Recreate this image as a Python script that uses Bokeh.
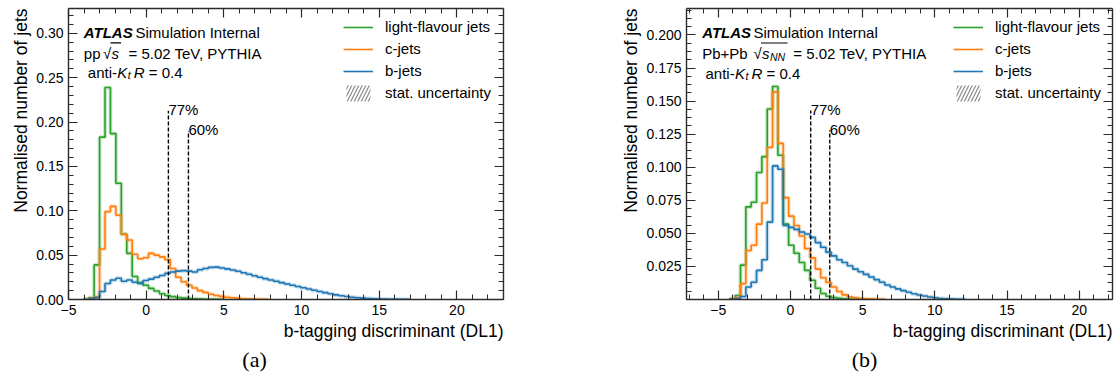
import math
import numpy as np
from bokeh.plotting import figure
from bokeh.models import (Label, Legend, LegendItem, LinearAxis, Range1d, Title,
                          SingleIntervalTicker, BoxAnnotation, NumeralTickFormatter,
                          CustomJSTickFormatter)
from bokeh.layouts import row
from bokeh.embed import file_html
from bokeh.resources import INLINE

SANS = "Liberation Sans"
SERIF = "Liberation Serif"
GREEN = "#2ca02c"
ORANGE = "#ff7f0e"
BLUE = "#1f77b4"
AXC = "#2b2b2b"

# ---------------- data: panel (a) pp ----------------
bin_start_a = -4.05
bin_width_a = 0.35
light_a = [0.0, 0.002, 0.039, 0.183, 0.239, 0.187, 0.131, 0.0735, 0.052, 0.026,
           0.019, 0.016, 0.0125, 0.0095, 0.0065, 0.0045, 0.0032, 0.0023, 0.0016, 0.0011,
           0.0008, 0.0005, 0.0003, 0.0002, 0.0001, 0.0]
c_a = [0.0, 0.0008, 0.003, 0.057, 0.099, 0.105, 0.095, 0.0735, 0.067, 0.051,
       0.046, 0.047, 0.052, 0.050, 0.048, 0.045, 0.035, 0.025, 0.020, 0.016,
       0.013, 0.010, 0.008, 0.006, 0.0045, 0.0035, 0.0026, 0.0019, 0.0013, 0.0009,
       0.0006, 0.0004, 0.0002, 0.0001]
b_a = [0.0, 0.0005, 0.002, 0.009, 0.018, 0.022, 0.024, 0.0205, 0.022, 0.0195,
       0.018, 0.0215, 0.023, 0.025, 0.027, 0.0295, 0.031, 0.032, 0.0325, 0.032,
       0.031, 0.0335, 0.035, 0.0362, 0.0365, 0.0355, 0.0345, 0.0333, 0.0318, 0.0302,
       0.0285, 0.0268, 0.025, 0.0235, 0.022, 0.0205, 0.019, 0.0175, 0.016, 0.0146,
       0.0132, 0.0118, 0.0104, 0.009, 0.0077, 0.0064, 0.0052, 0.0042, 0.0033, 0.0026,
       0.002, 0.0015, 0.0012, 0.0009, 0.0006, 0.0004, 0.0003, 0.0002, 0.0001, 0.0001]
wp_labels = ["77%", "60%"]
wp_cut_a = [1.43, 2.72]
wp_top_a = [0.2127, 0.190]
x_range_a = (-5.0, 23.0)
y_range_a = (0.0, 0.328)

# ---------------- data: panel (b) Pb+Pb ----------------
bin_start_b = -4.2
bin_width_b = 0.37
light_b = [0.0005, 0.003, 0.026, 0.070, 0.0735, 0.096, 0.108, 0.144, 0.161, 0.109,
           0.057, 0.041, 0.035, 0.028, 0.022, 0.0145, 0.0085, 0.0045, 0.0025, 0.0015,
           0.001, 0.0006, 0.0004, 0.0002, 0.0001]
c_b = [0.0, 0.0015, 0.012, 0.037, 0.041, 0.057, 0.073, 0.115, 0.157, 0.118,
       0.077, 0.063, 0.056, 0.048, 0.0385, 0.0315, 0.023, 0.0165, 0.013, 0.0095,
       0.006, 0.0035, 0.002, 0.0013, 0.0008, 0.0005, 0.0003, 0.0002, 0.0001]
b_b = [0.0, 0.0005, 0.0023, 0.0094, 0.013, 0.022, 0.030, 0.0585, 0.101, 0.0985,
       0.056, 0.0545, 0.053, 0.051, 0.0495, 0.047, 0.043, 0.0395, 0.0358, 0.033,
       0.030, 0.028, 0.0255, 0.023, 0.021, 0.019, 0.017, 0.015, 0.013, 0.011,
       0.0095, 0.008, 0.0067, 0.0055, 0.0044, 0.0034, 0.0026, 0.0019, 0.0013, 0.0008,
       0.0005, 0.0003, 0.0002, 0.0001]
wp_cut_b = [1.40, 2.72]
wp_top_b = [0.1428, 0.128]
x_range_b = (-7.2, 22.3)
y_range_b = (0.0, 0.22)

legend_labels = ["light-flavour jets", "c-jets", "b-jets", "stat. uncertainty"]
x_title = "b-tagging discriminant (DL1)"
y_title = "Normalised number of jets"

FIG_H = 374
FT = 8      # frame top (px)
FB = 299    # frame bottom (px)


def hist_xy(start, width, vals):
    n = len(vals)
    edges = start + width * np.arange(n + 1)
    x = np.concatenate([[edges[0]], edges])
    y = np.concatenate([[0.0], np.asarray(vals, dtype=float), [0.0]])
    return x, y


def lab(p, fl, text, px, py, size=15, style="normal", align="left",
        baseline="alphabetic", font=SANS):
    p.add_layout(Label(x=px - fl, y=FB - py, x_units="screen", y_units="screen",
                       text=text, text_font=font, text_font_size=f"{size}px",
                       text_font_style=style, text_align=align,
                       text_baseline=baseline, text_color="black"))


def bar(p, fl, px0, px1, py):
    p.add_layout(BoxAnnotation(left=px0 - fl, right=px1 - fl,
                               bottom=FB - py - 0.6, top=FB - py + 0.6,
                               left_units="screen", right_units="screen",
                               top_units="screen", bottom_units="screen",
                               fill_color="black", fill_alpha=1.0,
                               line_color=None))


def panel(fig_w, fl, fw, xr, yr, y_int, y_minor, y_fmt, y_over,
          start, width, light, cj, bj, cuts, tops, sub_label, sub_offset):
    p = figure(width=fig_w, height=FIG_H, x_range=Range1d(*xr), y_range=Range1d(*yr),
               output_backend="svg", toolbar_location=None,
               min_border_left=fl, min_border_right=fig_w - fl - fw,
               min_border_top=FT, min_border_bottom=FIG_H - FB,
               background_fill_color="white", border_fill_color="white",
               outline_line_color=None)
    p.grid.visible = False
    xt = SingleIntervalTicker(interval=5, num_minor_ticks=5)
    yt = SingleIntervalTicker(interval=y_int, num_minor_ticks=y_minor)
    p.xaxis.ticker = xt
    p.yaxis.ticker = yt
    p.yaxis.formatter = NumeralTickFormatter(format=y_fmt)
    p.yaxis.major_label_overrides = y_over
    p.xaxis.major_label_overrides = {-5: "\u22125"}
    blank = CustomJSTickFormatter(code="return ''")
    p.add_layout(LinearAxis(ticker=xt, formatter=blank), "above")
    p.add_layout(LinearAxis(ticker=yt, formatter=blank), "right")
    for ax in p.above + p.right:
        ax.major_label_standoff = 0
        ax.major_label_text_font_size = "1px"
    for ax in p.below + p.left + p.above + p.right:
        ax.axis_line_color = AXC
        ax.axis_line_width = 1.4
        ax.major_tick_line_color = AXC
        ax.minor_tick_line_color = AXC
        ax.major_tick_line_width = 1.2
        ax.minor_tick_line_width = 1.0
        ax.major_tick_in = 9
        ax.major_tick_out = 0
        ax.minor_tick_in = 5
        ax.minor_tick_out = 0
    for ax in p.below + p.left:
        ax.major_label_text_font = SANS
        ax.major_label_text_font_size = "14px"
        ax.major_label_text_color = "black"
    p.xaxis[0].major_label_standoff = 4
    p.yaxis[0].major_label_standoff = 5

    # axis titles (ATLAS style: x right-aligned, y top-aligned) and panel tag
    p.add_layout(Title(text=x_title, align="right", text_font=SANS,
                       text_font_size="17.5px", text_font_style="normal",
                       text_color="black", standoff=3), "below")
    p.add_layout(Title(text=sub_label, align="left", offset=sub_offset,
                       text_font=SERIF, text_font_size="22px",
                       text_font_style="normal", text_color="black",
                       standoff=4), "below")
    p.add_layout(Title(text=y_title, align="right", text_font=SANS,
                       text_font_size="17.5px", text_font_style="normal",
                       text_color="black", standoff=6), "left")

    rends = []
    for vals, col in [(light, GREEN), (cj, ORANGE), (bj, BLUE)]:
        x, y = hist_xy(start, width, vals)
        p.step(x, y, mode="after", line_color=col, line_width=4.0, line_alpha=0.25)
        r = p.step(x, y, mode="after", line_color=col, line_width=1.6)
        rends.append(r)
    r_unc = p.quad(left=[np.nan], right=[np.nan], top=[np.nan], bottom=[np.nan],
                   fill_color=None, line_color=None, hatch_pattern="/",
                   hatch_color="#8a8a8a", hatch_weight=1.2, hatch_scale=7)
    rends.append(r_unc)

    for cut, top, txt in zip(cuts, tops, wp_labels):
        p.segment(x0=[cut], y0=[0.0], x1=[cut], y1=[top], line_color="black",
                  line_width=1.4, line_dash="4 2")
        p.add_layout(Label(x=cut, y=top, text=txt, x_offset=0, y_offset=1,
                           text_font=SANS, text_font_size="15px",
                           text_baseline="alphabetic", text_align="left",
                           text_color="black"))

    leg = Legend(items=[LegendItem(label=l, renderers=[r]) for l, r in zip(legend_labels, rends)],
                 glyph_width=30, glyph_height=20, label_height=20, label_standoff=12,
                 spacing=2, padding=0, margin=0, border_line_color=None,
                 background_fill_alpha=0, label_text_font=SANS,
                 label_text_font_size="15px", label_text_color="black")
    return p, leg


# ---------------- panel (a) ----------------
FL_A, FW_A, W_A = 68, 435, 559
pa, leg_a = panel(W_A, FL_A, FW_A, x_range_a, y_range_a, 0.05, 5, "0.00", {},
                  bin_start_a, bin_width_a, light_a, c_a, b_a, wp_cut_a, wp_top_a,
                  "(a)", 254 - 12.2 - FL_A)
leg_a.location = (343 - FL_A, FB - 102.5)
pa.add_layout(leg_a)
lab(pa, FL_A, "ATLAS", 83.3, 32.3, style="bold italic")
lab(pa, FL_A, "Simulation Internal", 135, 32.3)
lab(pa, FL_A, "pp", 83.3, 52.7)
lab(pa, FL_A, "\u221a", 102.5, 52.7)
lab(pa, FL_A, "s", 111, 52.7, style="italic")
bar(pa, FL_A, 110, 120.5, 42.3)
lab(pa, FL_A, "= 5.02 TeV, PYTHIA", 128, 52.7)
s0 = 87.3
lab(pa, FL_A, "anti-", s0, 71.5)
lab(pa, FL_A, "K", s0 + 29.5, 71.5, style="italic")
lab(pa, FL_A, "t", s0 + 40, 74.5, size=10.5, style="italic")
lab(pa, FL_A, "R", s0 + 46, 71.5, style="italic")
lab(pa, FL_A, "= 0.4", s0 + 61, 71.5)

# ---------------- panel (b) ----------------
X0B = 559
FL_B, FW_B, W_B = 127, 426, 559
pb, leg_b = panel(W_B, FL_B, FW_B, x_range_b, y_range_b, 0.025, 4, "0.000", {0: ""},
                  bin_start_b, bin_width_b, light_b, c_b, b_b, wp_cut_b, wp_top_b,
                  "(b)", 864 - 12.8 - (X0B + FL_B))
leg_b.location = (953 - X0B - FL_B, FB - 102.5)
pb.add_layout(leg_b)
lab(pb, FL_B, "ATLAS", 701.7 - X0B, 32.3, style="bold italic")
lab(pb, FL_B, "Simulation Internal", 753 - X0B, 32.3)
lab(pb, FL_B, "Pb+Pb", 701.7 - X0B, 53)
lab(pb, FL_B, "\u221a", 753 - X0B, 53)
lab(pb, FL_B, "s", 761.5 - X0B, 53, style="italic")
lab(pb, FL_B, "NN", 769.5 - X0B, 56, size=10.5, style="italic")
bar(pb, FL_B, 760.5 - X0B, 787 - X0B, 42.5)
lab(pb, FL_B, "= 5.02 TeV, PYTHIA", 792.7 - X0B, 53)
s1 = 705 - X0B
lab(pb, FL_B, "anti-", s1, 72.5)
lab(pb, FL_B, "K", s1 + 29.5, 72.5, style="italic")
lab(pb, FL_B, "t", s1 + 40, 75.5, size=10.5, style="italic")
lab(pb, FL_B, "R", s1 + 46, 72.5, style="italic")
lab(pb, FL_B, "= 0.4", s1 + 61, 72.5)

layout = row(pa, pb)
open("out.html", "w").write(file_html(layout, INLINE))
